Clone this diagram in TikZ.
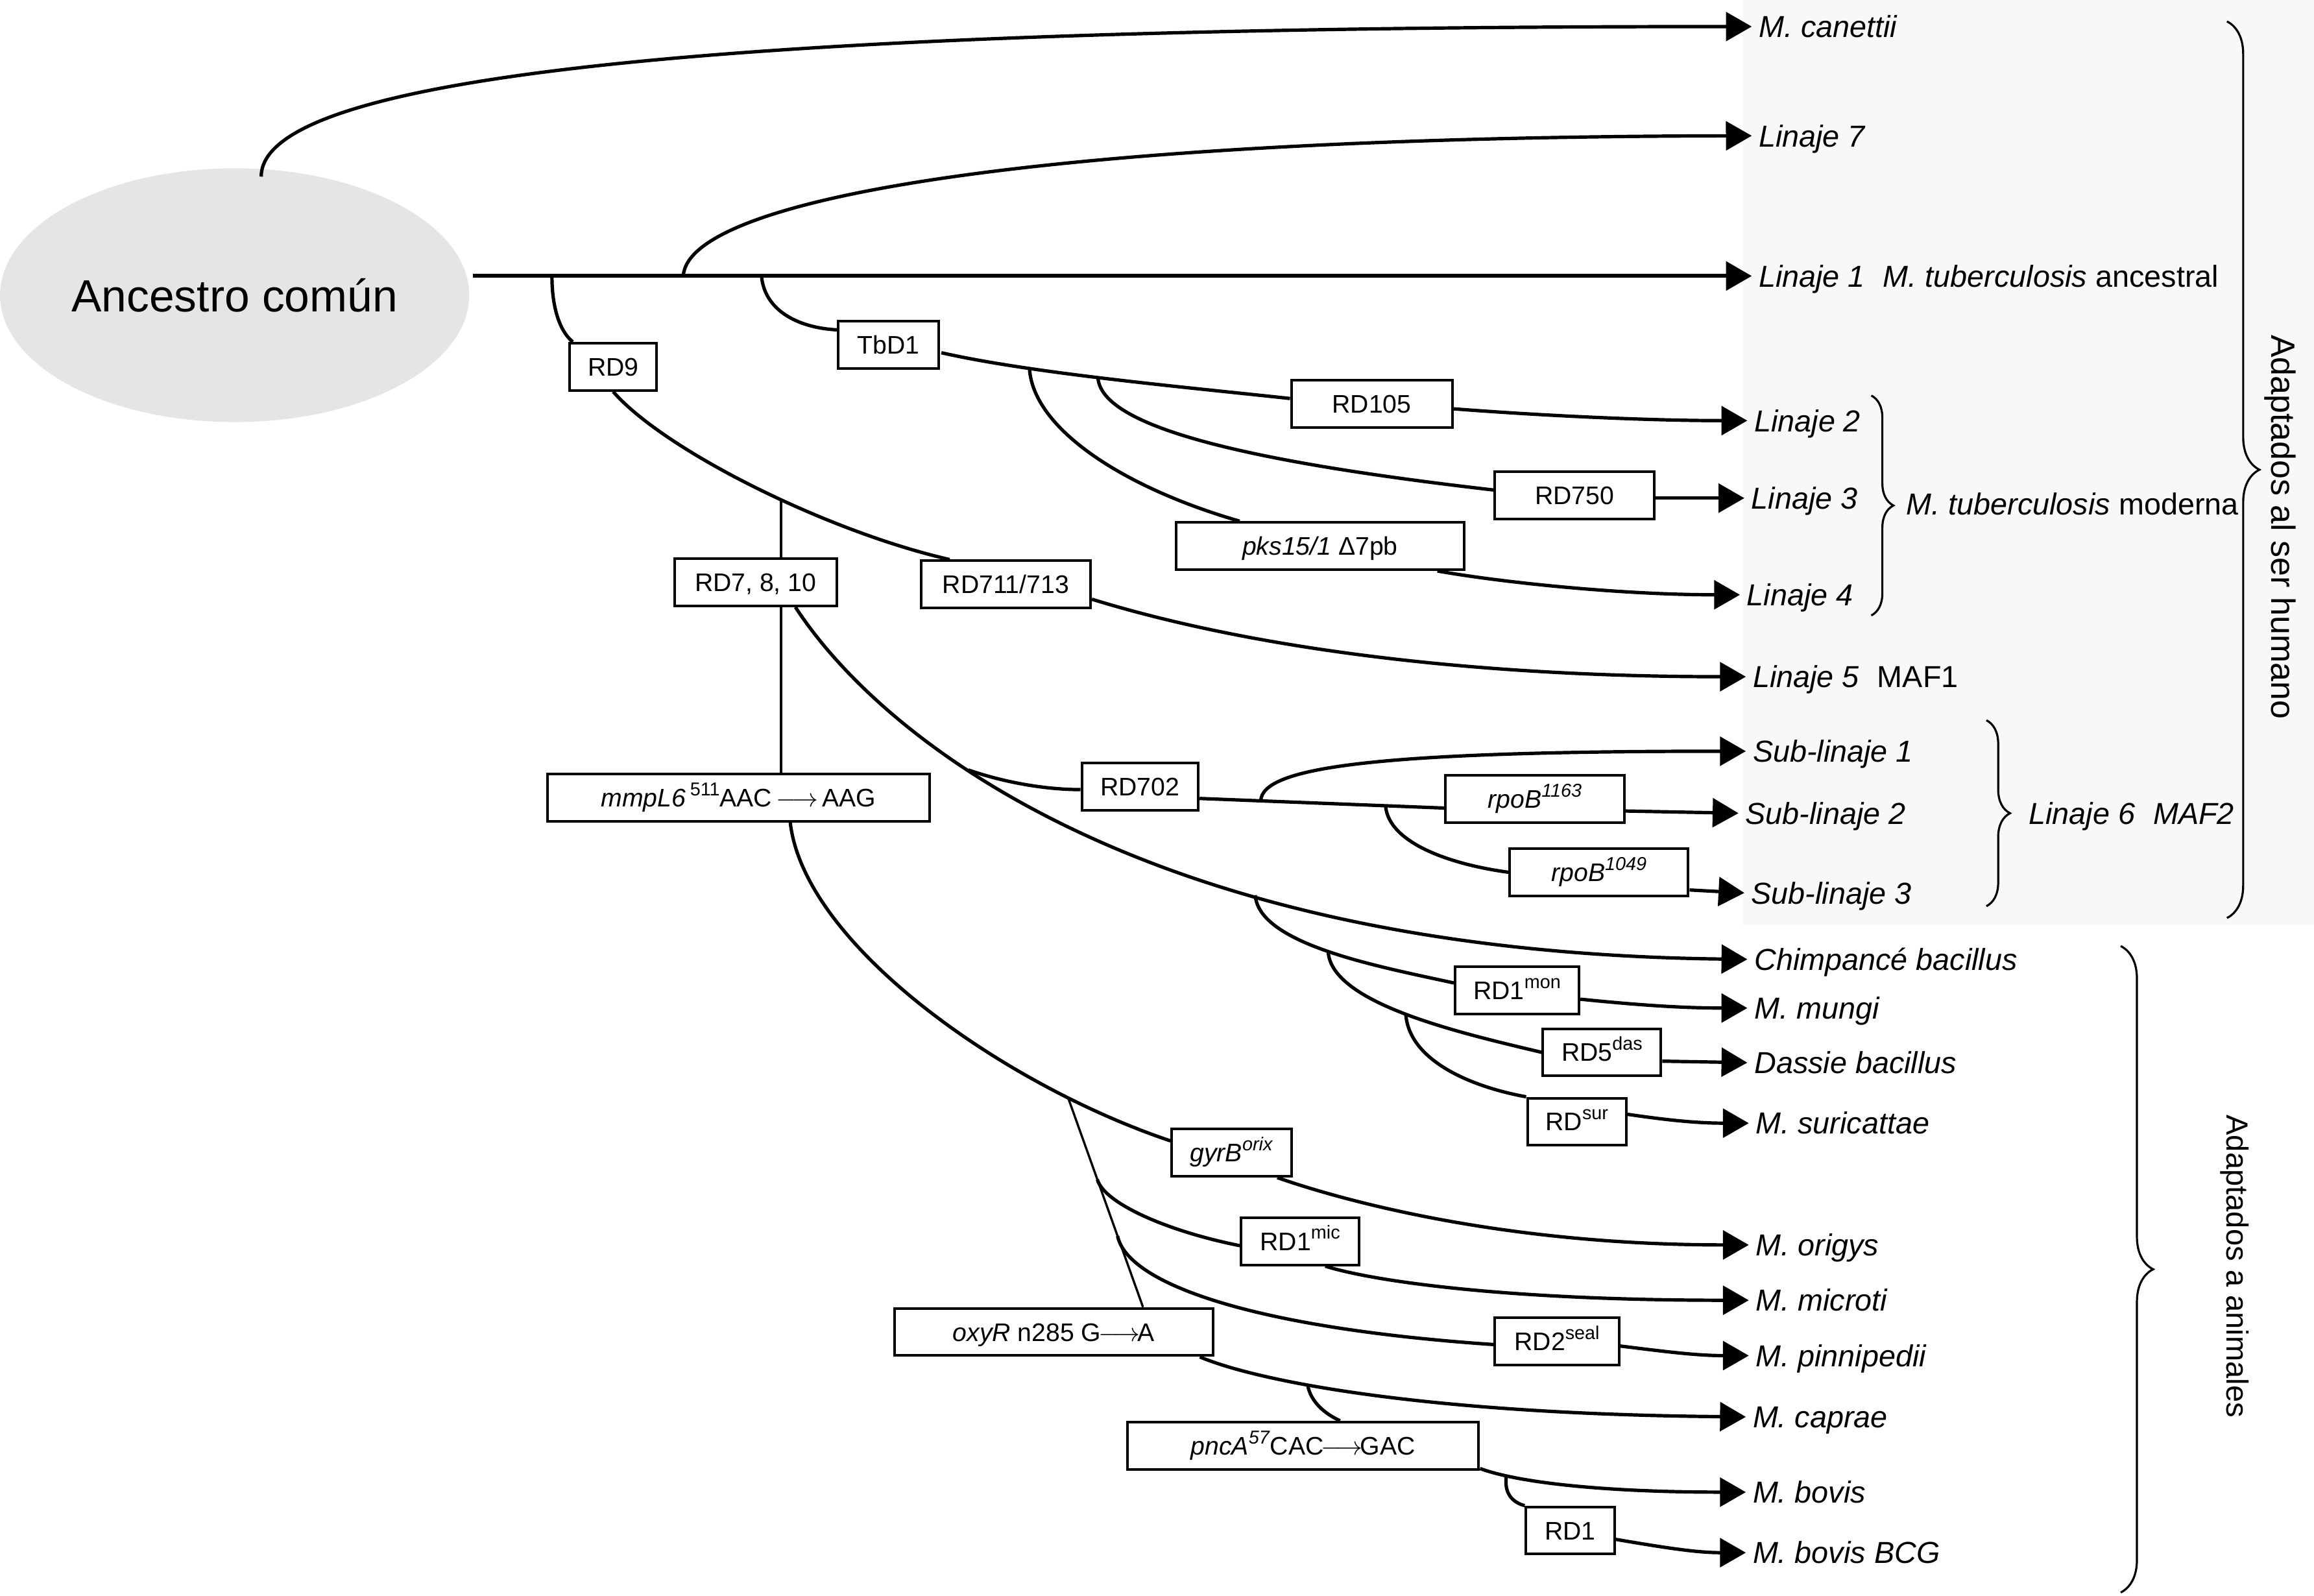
\documentclass[tikz,border=0pt]{standalone}
\usepackage{fontspec}
\usepackage{graphicx}
\setmainfont{Liberation Sans}
\usetikzlibrary{arrows.meta,calc,shapes.geometric,decorations.pathreplacing}
\definecolor{bgc}{RGB}{248,248,248}
\definecolor{ellc}{RGB}{229,229,229}
\newcommand{\sups}[1]{\raisebox{4.3pt}{\fontsize{7.2}{8}\selectfont #1}}
\begin{document}
\begin{tikzpicture}[x=0.02cm,y=-0.02cm,
  br/.style={line width=1.3pt},
  arr/.style={br,-{Triangle[length=0.35cm,width=0.39cm]}},
  thinl/.style={line width=0.85pt},
  box/.style={draw,fill=white,line width=1pt,minimum height=0.64cm,inner sep=0pt,text height=7pt,text depth=0pt,font=\fontsize{9.8}{11}\selectfont},
  bw/.style={minimum width=#1*0.02cm},
  lab/.style={anchor=west,inner xsep=2.5pt,inner ysep=0pt,text height=8.4pt,text depth=0pt,font=\fontsize{11.7}{14}\selectfont},
  brc/.style={decorate,decoration={brace,amplitude=#1},line width=0.8pt}
]
\path[use as bounding box] (0,0) rectangle (1568,1081);
\fill[bgc] (1181,0) rectangle (1568,627);

% ancestor
\node[ellipse,fill=ellc,minimum width=6.36cm,minimum height=3.44cm,inner sep=0pt,font=\fontsize{17.4}{20}\selectfont] (anc) at (159,200) {Ancestro común};

% end labels
\node[lab] (canettii) at (1187,18) {\textit{M. canettii}};
\node[lab] (lin7) at (1187,92) {\textit{Linaje 7}};
\node[lab] (lin1) at (1187,187) {\textit{Linaje 1}\hspace{0.6em}\textit{M. tuberculosis} ancestral};
\node[lab] (lin2) at (1184,285) {\textit{Linaje 2}};
\node[lab] (lin3) at (1182,337.5) {\textit{Linaje 3}};
\node[lab] (lin4) at (1179,403) {\textit{Linaje 4}};
\node[lab] (lin5) at (1183,458.5) {\textit{Linaje 5}\hspace{0.6em}MAF1};
\node[lab] (sub1) at (1183,509) {\textit{Sub-linaje 1}};
\node[lab] (sub2) at (1178,551) {\textit{Sub-linaje 2}};
\node[lab] (sub3) at (1182,605) {\textit{Sub-linaje 3}};
\node[lab] (chimp) at (1184,650) {\textit{Chimpancé bacillus}};
\node[lab] (mungi) at (1184,683) {\textit{M. mungi}};
\node[lab] (dassie) at (1184,720) {\textit{Dassie bacillus}};
\node[lab] (surica) at (1185,761) {\textit{M. suricattae}};
\node[lab] (origys) at (1185,843.5) {\textit{M. origys}};
\node[lab] (microti) at (1185,881) {\textit{M. microti}};
\node[lab] (pinni) at (1185,918.5) {\textit{M. pinnipedii}};
\node[lab] (caprae) at (1183,960) {\textit{M. caprae}};
\node[lab] (bovis) at (1183,1011) {\textit{M. bovis}};
\node[lab] (bcg) at (1183,1052) {\textit{M. bovis BCG}};

% group labels and braces
\node[lab] (modlab) at (1287,341.5) {\textit{M. tuberculosis} moderna};
\node[lab] (l6lab) at (1370,551) {\textit{Linaje 6\hspace{0.6em}MAF2}};
\node[rotate=-90,font=\fontsize{13}{15}\selectfont] (humlab) at (1545,357) {Adaptados al ser humano};
\node[rotate=-90,font=\fontsize{11.8}{14}\selectfont] (anilab) at (1514,858) {Adaptados a animales};
\draw[brc=0.44cm] (1509,14.5) -- (1509,622);
\draw[brc=0.30cm] (1268,268) -- (1268,417);
\draw[brc=0.32cm] (1346,488) -- (1346,614);
\draw[brc=0.44cm] (1437,641) -- (1437,1079);

% boxes
\node[box,bw=59] (rd9) at (415.5,248.5) {RD9};
\node[box,bw=68] (tbd1) at (602,233.5) {TbD1};
\node[box,bw=109] (rd105) at (929.5,273.5) {RD105};
\node[box,bw=108] (rd750) at (1067,335.5) {RD750};
\node[box,bw=195] (pks) at (894.5,370) {\textit{pks15/1} Δ7pb};
\node[box,bw=110] (rd7810) at (512,394.5) {RD7, 8, 10};
\node[box,bw=115] (rd711) at (681.5,396) {RD711/713};
\node[box,bw=259] (mmpl6) at (500.5,540.5) {\textit{mmpL6}\,\sups{511}AAC\,$\longrightarrow$\,AAG};
\node[box,bw=79] (rd702) at (772.5,533) {RD702};
\node[box,bw=121] (rpo1163) at (1040,541.5) {\textit{rpoB}\sups{\textit{1163}}};
\node[box,bw=121] (rpo1049) at (1083.5,591) {\textit{rpoB}\sups{\textit{1049}}};
\node[box,bw=84] (rd1mon) at (1028,671) {RD1\sups{mon}};
\node[box,bw=80] (rd5das) at (1085.5,713) {RD5\sups{das}};
\node[box,bw=67] (rdsur) at (1068.5,760) {RD\sups{sur}};
\node[box,bw=81] (gyrb) at (834.5,781) {\textit{gyrB}\sups{\textit{orix}}};
\node[box,bw=80] (rd1mic) at (881,841) {RD1\sups{mic}};
\node[box,bw=216] (oxyr) at (714,902.5) {\textit{oxyR} n285 G\kern-1pt$\longrightarrow$\kern-1pt A};
\node[box,bw=84] (rd2seal) at (1055,909) {RD2\sups{seal}};
\node[box,bw=238] (pnca) at (883,979.5) {\textit{pncA}\sups{\textit{57}}CAC\kern-1pt$\longrightarrow$\kern-1pt GAC};
\node[box,bw=60] (rd1) at (1064,1037) {RD1};

% main trunk
\coordinate (m0) at ($(anc.east)+(2,-13)$);
\coordinate (b9) at (374,187);
\coordinate (b7) at (463,187);
\coordinate (btb) at (516,187);
\draw[arr,line width=1.5pt] (m0) -- (lin1.west);
\draw[arr] ($(anc.north)+(18,6)$) .. controls (177,50) and (500,18) .. (canettii.west);
\draw[arr] (b7) .. controls (466,135) and (700,93) .. (lin7.west);

% TbD1 clade
\draw[br] (btb) .. controls (518,210) and (540,222) .. ($(tbd1.west)+(0,-10)$);
\draw[br] ($(tbd1.east)+(1,5.5)$) .. controls (700,253) and (800,262) .. ($(rd105.west)+(0,-3.5)$) coordinate[pos=0.28] (bpks) coordinate[pos=0.47] (b750);
\draw[arr] ($(rd105.east)+(0,3.5)$) .. controls (1050,282) and (1120,285) .. (lin2.west);
\draw[br] (b750) .. controls (746,285) and (820,310) .. ($(rd750.west)+(0,-3.5)$);
\draw[arr] ($(rd750.east)+(0,2)$) -- (lin3.west);
\draw[br] (bpks) .. controls (700,290) and (760,330) .. ($(pks.north)+(-54.5,0)$);
\draw[arr] ($(pks.south)+(79.5,0)$) .. controls (1020,395) and (1100,403) .. (lin4.west);

% RD9 clade
\draw[br] (b9) .. controls (374,212) and (381,226) .. ($(rd9.north west)+(3,0)$);
\draw[br] (rd9.south) .. controls (450,305) and (560,360) .. ($(rd711.north)+(-38,0)$) coordinate[pos=0.57] (b7810);
\draw[arr] ($(rd711.east)+(0,10)$) .. controls (850,440) and (1000,458.5) .. (lin5.west);
\draw[thinl] (b7810) -- (b7810 |- rd7810.north);
\draw[thinl] (b7810 |- rd7810.south) -- (b7810 |- mmpl6.north);

% lineage 6 and chimpanzee clade
\draw[arr] ($(rd7810.south)+(27,0)$) .. controls (590,490) and (760,645) .. (chimp.west) coordinate[pos=0.38] (b702) coordinate[pos=0.68] (ban);
\draw[br] (b702) .. controls (680,530) and (708,535) .. ($(rd702.west)+(0,2)$);
\draw[br] ($(rd702.east)+(0,8)$) -- ($(rpo1163.west)+(0,6)$) coordinate[pos=0.25] (bs1) coordinate[pos=0.76] (bs3);
\draw[arr] ($(rpo1163.east)+(0,8)$) -- (sub2.west);
\draw[arr] (bs1) .. controls (855,520) and (930,509) .. (sub1.west);
\draw[br] (bs3) .. controls (941,572) and (985,586) .. (rpo1049.west);
\draw[arr] ($(rpo1049.east)+(0,12)$) -- (sub3.west);
\draw[br] (ban) .. controls (853,640) and (935,655) .. ($(rd1mon.west)+(0,-5)$) coordinate[pos=0.5] (bdas);
\draw[arr] ($(rd1mon.east)+(0,6)$) .. controls (1110,681) and (1140,683) .. (mungi.west);
\draw[br] (bdas) .. controls (902,680) and (990,700) .. (rd5das.west) coordinate[pos=0.5] (bsur);
\draw[arr] ($(rd5das.east)+(0,6)$) -- (dassie.west);
\draw[br] (bsur) .. controls (955,720) and (1000,737) .. (rdsur.north west);
\draw[arr] ($(rdsur.east)+(0,-5)$) .. controls (1130,759) and (1150,761) .. (surica.west);

% animal clade
\draw[br] ($(mmpl6.south)+(35,0)$) .. controls (545,640) and (680,735) .. ($(gyrb.west)+(0,-8)$) coordinate[pos=0.8] (boxy);
\draw[arr] ($(gyrb.south)+(31,0)$) .. controls (900,810) and (1010,843.5) .. (origys.west);
\draw[thinl] (boxy) -- ($(oxyr.north)+(60.5,0)$) coordinate[pos=0.39] (bmic) coordinate[pos=0.66] (bseal);
\draw[br] (bmic) .. controls (748,815) and (790,834) .. ($(rd1mic.west)+(0,3)$);
\draw[arr] ($(rd1mic.south)+(17,0)$) .. controls (930,868) and (1020,881) .. (microti.west);
\draw[br] (bseal) .. controls (764,870) and (850,900) .. ($(rd2seal.west)+(0,2)$);
\draw[arr] ($(rd2seal.east)+(0,3)$) .. controls (1130,916) and (1150,918.5) .. (pinni.west);
\draw[arr] ($(oxyr.south)+(99,0)$) .. controls (850,935) and (960,958) .. (caprae.west) coordinate[pos=0.37] (bpnc);
\draw[br] (bpnc) .. controls (888,950) and (898,958) .. ($(pnca.north)+(25,0)$);
\draw[arr] ($(pnca.east)+(0,15.5)$) .. controls (1030,1005) and (1090,1011) .. (bovis.west) coordinate[pos=0.18] (brd1);
\draw[br] (brd1) .. controls (1019,1012) and (1025,1018) .. (rd1.north west);
\draw[arr] ($(rd1.east)+(0,6)$) .. controls (1130,1049) and (1150,1052) .. (bcg.west);
\end{tikzpicture}
\end{document}
